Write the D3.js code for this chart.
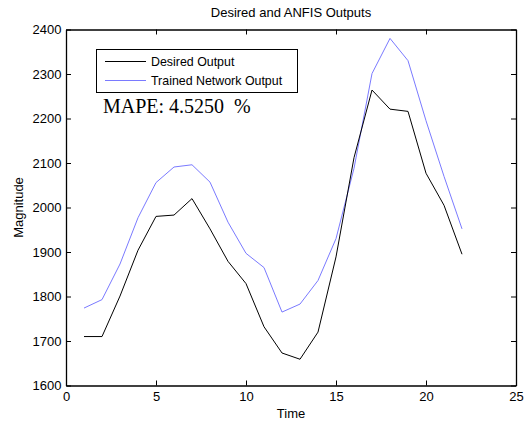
<!DOCTYPE html>
<html><head><meta charset="utf-8">
<script src="https://cdn.jsdelivr.net/npm/d3@7"></script>
<style>body{margin:0;background:#fff}svg{display:block}</style>
</head><body>
<svg id="c" width="526" height="423"></svg>
<script>
const time = [1,2,3,4,5,6,7,8,9,10,11,12,13,14,15,16,17,18,19,20,21,22];
const desired = [1710,1710,1801,1904,1980,1983,2020,1952,1879,1829,1732,1673,1659,1720,1889,2112,2264,2221,2216,2077,2005,1895];
const trained = [1774,1793,1873,1977,2056,2091,2096,2057,1967,1897,1865,1765,1783,1836,1930,2088,2301,2380,2330,2195,2070,1952];
const xTicks = [0,5,10,15,20,25];
const yTicks = [1600,1700,1800,1900,2000,2100,2200,2300,2400];
const seriesNames = ["Desired Output","Trained Network Output"];
const mapeText = "MAPE: 4.5250  %";

const svg = d3.select("#c");
const L=66, R=516, T=29.5, B=385.5;
const x = d3.scaleLinear().domain([0,25]).range([L,R]);
const y = d3.scaleLinear().domain([1600,2400]).range([B,T]);
const font = "'Liberation Sans', Arial, sans-serif";
const fs = 13;

// lines
const line = d3.line().x((d,i)=>x(time[i])).y(d=>y(d));
svg.append("path").datum(trained).attr("d",line).attr("fill","none").attr("stroke","#7a7aff").attr("stroke-width",1);
svg.append("path").datum(desired).attr("d",line).attr("fill","none").attr("stroke","#000").attr("stroke-width",1);

// axes
const tl = 5;
const fmt = d3.format("d");
const gB = svg.append("g").attr("transform",`translate(0,${B})`).call(d3.axisBottom(x).tickValues(xTicks).tickSizeInner(-tl).tickSizeOuter(0).tickPadding(6.5).tickFormat(fmt));
const gT = svg.append("g").attr("transform",`translate(0,${T})`).call(d3.axisTop(x).tickValues(xTicks).tickSizeInner(-tl).tickSizeOuter(0).tickFormat(""));
const gL = svg.append("g").attr("transform",`translate(${L},0)`).call(d3.axisLeft(y).tickValues(yTicks).tickSizeInner(-tl).tickSizeOuter(0).tickPadding(4.5).tickFormat(fmt));
const gR = svg.append("g").attr("transform",`translate(${R},0)`).call(d3.axisRight(y).tickValues(yTicks).tickSizeInner(-tl).tickSizeOuter(0).tickFormat(""));
[gB,gT,gL,gR].forEach(g=>{
  g.selectAll("path").attr("stroke","#000").attr("stroke-width",1.3);
  g.selectAll("line").attr("stroke","#000");
  g.selectAll("text").attr("font-family",font).attr("font-size",fs).attr("fill","#000");
});

// title and labels
svg.append("text").attr("x",(L+R)/2).attr("y",16.5).attr("text-anchor","middle").attr("font-family",font).attr("font-size",fs).text("Desired and ANFIS Outputs");
svg.append("text").attr("x",(L+R)/2).attr("y",418).attr("text-anchor","middle").attr("font-family",font).attr("font-size",fs).text("Time");
svg.append("text").attr("transform",`translate(23,${(T+B)/2}) rotate(-90)`).attr("text-anchor","middle").attr("font-family",font).attr("font-size",fs).text("Magnitude");

// legend
const lg = svg.append("g");
lg.append("rect").attr("x",96.5).attr("y",49.5).attr("width",201).attr("height",43).attr("fill","#fff").attr("stroke","#000").attr("stroke-width",1);
const colors = ["#000","#7a7aff"];
seriesNames.forEach((n,i)=>{
  const cy = 61 + i*19;
  lg.append("line").attr("x1",105).attr("x2",146).attr("y1",cy+0.5).attr("y2",cy+0.5).attr("stroke",colors[i]).attr("stroke-width",1);
  lg.append("text").attr("x",151).attr("y",cy+4.6).attr("font-family",font).attr("font-size",12.4).text(n);
});

// MAPE
svg.append("text").attr("x",103).attr("y",113).attr("font-family","'Liberation Serif','Times New Roman',serif").attr("font-size",20).attr("xml:space","preserve").style("white-space","pre").text(mapeText);
</script>
</body></html>
